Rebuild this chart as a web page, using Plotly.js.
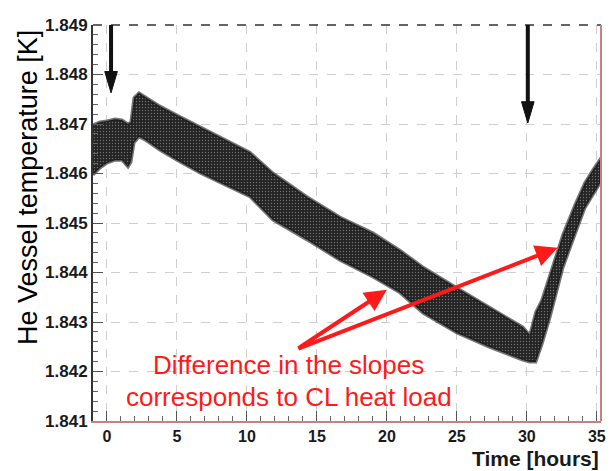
<!DOCTYPE html>
<html>
<head>
<meta charset="utf-8">
<script src="https://cdn.plot.ly/plotly-3.0.1.min.js"></script>
<style>
  html, body { margin: 0; padding: 0; background: #ffffff; }
  #chart { width: 612px; height: 471px; }
</style>
</head>
<body>
<div id="chart"></div>
<script>
// Time in hours and the upper / lower edge of the measured temperature band [K]
var timeHours = [-1.0, -0.5, 0.0, 0.57, 1.07, 1.5, 1.71, 1.93, 2.29, 2.71, 3.79, 5.0, 6.64, 8.43, 10.21, 11.86, 14.29, 16.64, 19.0, 20.93, 22.57, 25.0, 27.36, 29.71, 30.21, 30.64, 31.07, 31.64, 32.57, 33.43, 34.14, 34.71, 35.29];
var tempUpper = [1.84698, 1.84704, 1.84706, 1.84710, 1.84708, 1.84700, 1.84704, 1.84753, 1.84763, 1.84755, 1.84736, 1.84718, 1.84694, 1.84668, 1.84643, 1.84601, 1.84553, 1.84512, 1.84480, 1.84445, 1.84411, 1.84369, 1.84330, 1.84290, 1.84274, 1.84320, 1.84344, 1.84395, 1.84476, 1.84536, 1.84581, 1.84607, 1.84631];
var tempLower = [1.84597, 1.84611, 1.84621, 1.84627, 1.84627, 1.84613, 1.84623, 1.84662, 1.84674, 1.84668, 1.84647, 1.84627, 1.84601, 1.84577, 1.84553, 1.84506, 1.84466, 1.84425, 1.84391, 1.84359, 1.84318, 1.84278, 1.84249, 1.84223, 1.84219, 1.84219, 1.84254, 1.84308, 1.84409, 1.84476, 1.84530, 1.84557, 1.84583];

var xTicks = [0, 5, 10, 15, 20, 25, 30, 35];
var yTicks = [1.841, 1.842, 1.843, 1.844, 1.845, 1.846, 1.847, 1.848, 1.849];

// Markers of events (black arrows) and the annotation arrows (red)
var eventTimes = [0.29, 30.07];
var eventHeadTemps = [1.84763, 1.84702];
var eventTailTemps = [1.84926, 1.84906];
var noteText = ["Difference in the slopes", "corresponds to CL heat load"];
var slopeTail = [13.57, 1.84245];
var slopeHeads = [[20.0, 1.84365], [32.2, 1.84450]];

var polyX = timeHours.concat(timeHours.slice().reverse());
var polyY = tempUpper.concat(tempLower.slice().reverse());

var band = {
  x: polyX, y: polyY, type: 'scatter', mode: 'lines',
  fill: 'toself',
  fillcolor: '#262626',
  fillpattern: {shape: '.', bgcolor: '#232323', fgcolor: '#6e6e6e', size: 3, solidity: 0.18},
  line: {color: 'rgba(25,25,25,0.6)', width: 3},
  hoverinfo: 'skip', showlegend: false
};

// black event arrows drawn as shapes (shaft + narrow head)
var headLenK = 0.00043;   // head length in K
var headHalfH = 0.45;     // head half width in hours
var shapes = [
  {type: 'line', xref: 'paper', yref: 'paper', x0: 0, x1: 1, y0: 1, y1: 1, line: {color: '#333333', width: 1.5, dash: 'dash'}},
  {type: 'line', xref: 'paper', yref: 'paper', x0: 1, x1: 1, y0: 0, y1: 1, line: {color: '#c98080', width: 2}}
];
for (var i = 0; i < eventTimes.length; i++) {
  var t = eventTimes[i], h = eventHeadTemps[i];
  shapes.push({type: 'line', xref: 'x', yref: 'y', x0: t, x1: t, y0: eventTailTemps[i], y1: h + headLenK * 0.8,
    line: {color: '#111111', width: 4}, layer: 'above'});
  shapes.push({type: 'path', xref: 'x', yref: 'y', layer: 'above',
    path: 'M' + (t - headHalfH) + ',' + (h + headLenK) + ' L' + (t + headHalfH) + ',' + (h + headLenK) + ' L' + t + ',' + h + ' Z',
    fillcolor: '#111111', line: {color: '#111111', width: 1}});
}

var annotations = [];
for (var j = 0; j < slopeHeads.length; j++) {
  annotations.push({
    x: slopeHeads[j][0], y: slopeHeads[j][1], xref: 'x', yref: 'y',
    ax: slopeTail[0], ay: slopeTail[1], axref: 'x', ayref: 'y',
    showarrow: true, arrowhead: 2, arrowsize: 1.1, arrowwidth: 4, arrowcolor: '#ff1a1a', text: ''
  });
}
annotations.push({
  x: 0.385, y: 0.142, xref: 'paper', yref: 'paper', xanchor: 'center', yanchor: 'middle',
  showarrow: false, text: noteText[0],
  font: {family: 'Liberation Sans, Arial, sans-serif', size: 26, color: '#ff1a1a'}
});
annotations.push({
  x: 0.385, y: 0.061, xref: 'paper', yref: 'paper', xanchor: 'center', yanchor: 'middle',
  showarrow: false, text: noteText[1],
  font: {family: 'Liberation Sans, Arial, sans-serif', size: 26, color: '#ff1a1a'}
});
// axis titles
annotations.push({
  x: 1.0, y: -0.095, xref: 'paper', yref: 'paper', xanchor: 'right', yanchor: 'middle',
  showarrow: false, text: 'Time [hours]',
  font: {family: 'Liberation Sans, Arial, sans-serif', size: 21, color: '#1a1a1a', weight: 'bold'}
});
annotations.push({
  x: -0.128, y: 0.591, xref: 'paper', yref: 'paper', xanchor: 'center', yanchor: 'middle',
  showarrow: false, textangle: -90, text: 'He Vessel temperature [K]',
  font: {family: 'Liberation Sans, Arial, sans-serif', size: 27, color: '#000000'}
});

var layout = {
  width: 612, height: 471,
  margin: {l: 93, r: 11, t: 25, b: 50, pad: 0},
  paper_bgcolor: '#ffffff', plot_bgcolor: '#ffffff',
  showlegend: false,
  xaxis: {
    range: [-1.0, 35.3], tickvals: xTicks, ticktext: xTicks.map(String),
    ticks: 'inside', ticklen: 10, tickwidth: 1, tickcolor: '#555',
    showline: true, linecolor: '#c98080', linewidth: 2,
    showgrid: true, gridcolor: '#cfcfcf', griddash: 'dash', gridwidth: 1,
    zeroline: false,
    minor: {dtick: 1, ticks: 'inside', ticklen: 5, tickcolor: '#666', showgrid: false},
    tickfont: {family: 'Liberation Sans, Arial, sans-serif', size: 16, color: '#1a1a1a', weight: 'bold'}
  },
  yaxis: {
    range: [1.841, 1.849], tickvals: yTicks, ticktext: yTicks.map(function (v) { return v.toFixed(3); }),
    ticks: 'inside', ticklen: 10, tickwidth: 1, tickcolor: '#555',
    showline: true, linecolor: '#333333', linewidth: 2,
    showgrid: true, gridcolor: '#cfcfcf', griddash: 'dash', gridwidth: 1,
    zeroline: false,
    minor: {dtick: 0.0002, tick0: 1.841, ticks: 'inside', ticklen: 5, tickcolor: '#666', showgrid: false},
    tickfont: {family: 'Liberation Sans, Arial, sans-serif', size: 17, color: '#1a1a1a', weight: 'bold'}
  },
  shapes: shapes,
  annotations: annotations
};

Plotly.newPlot('chart', [band], layout, {displayModeBar: false, staticPlot: true});
</script>
</body>
</html>
